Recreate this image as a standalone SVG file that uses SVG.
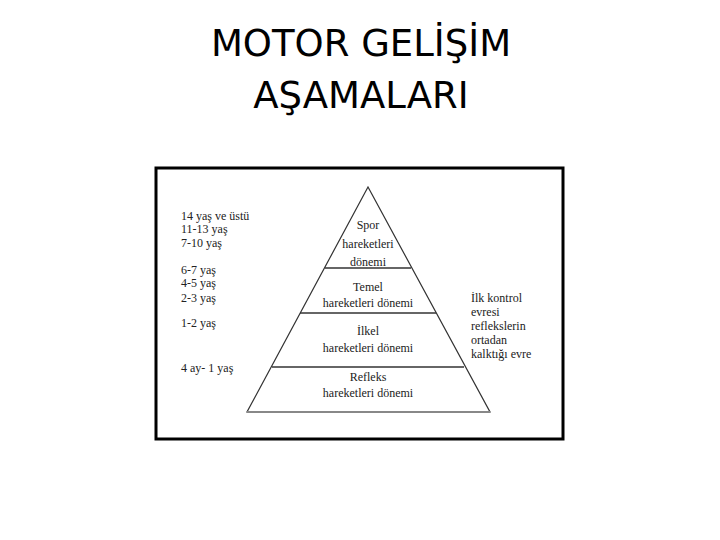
<svg xmlns="http://www.w3.org/2000/svg" width="720" height="540" viewBox="0 0 720 540">
<style>
.t{font-family:"DejaVu Sans",sans-serif;font-size:37px;fill:#000;text-anchor:middle}
text.s{font-family:"Liberation Serif","Times New Roman",serif;font-size:12px;fill:#222}
text.c{text-anchor:middle}
.l{stroke:#333;stroke-width:1.3}
</style>
<rect width="720" height="540" fill="#fff"/>
<text class="t" x="361" y="56">MOTOR GELİŞİM</text>
<text class="t" x="361" y="108">AŞAMALARI</text>
<rect x="156" y="168" width="407" height="271" fill="#fff" stroke="#000" stroke-width="3"/>
<polygon points="368,187 247,412 490,412" fill="none" stroke="#333" stroke-width="1.2"/>
<line x1="247" y1="412" x2="490" y2="412" stroke="#888" stroke-width="2"/>
<line class="l" x1="325" y1="268" x2="411" y2="268"/>
<line class="l" x1="300" y1="313" x2="436" y2="313"/>
<line class="l" x1="272" y1="367" x2="464" y2="367"/>
<text class="s c" x="368" y="229">Spor</text>
<text class="s c" x="368" y="248">hareketleri</text>
<text class="s c" x="368" y="266">dönemi</text>
<text class="s c" x="368" y="291">Temel</text>
<text class="s c" x="368" y="307">hareketleri dönemi</text>
<text class="s c" x="368" y="335">İlkel</text>
<text class="s c" x="368" y="352">hareketleri dönemi</text>
<text class="s c" x="368" y="381">Refleks</text>
<text class="s c" x="368" y="397">hareketleri dönemi</text>
<text class="s" x="181" y="220">14 yaş ve üstü</text>
<text class="s" x="181" y="233">11-13 yaş</text>
<text class="s" x="181" y="247">7-10 yaş</text>
<text class="s" x="181" y="274">6-7 yaş</text>
<text class="s" x="181" y="287">4-5 yaş</text>
<text class="s" x="181" y="302">2-3 yaş</text>
<text class="s" x="181" y="327">1-2 yaş</text>
<text class="s" x="181" y="372">4 ay- 1 yaş</text>
<text class="s" x="471" y="302">İlk kontrol</text>
<text class="s" x="471" y="316">evresi</text>
<text class="s" x="471" y="330">reflekslerin</text>
<text class="s" x="471" y="344">ortadan</text>
<text class="s" x="471" y="358">kalktığı evre</text>
</svg>
